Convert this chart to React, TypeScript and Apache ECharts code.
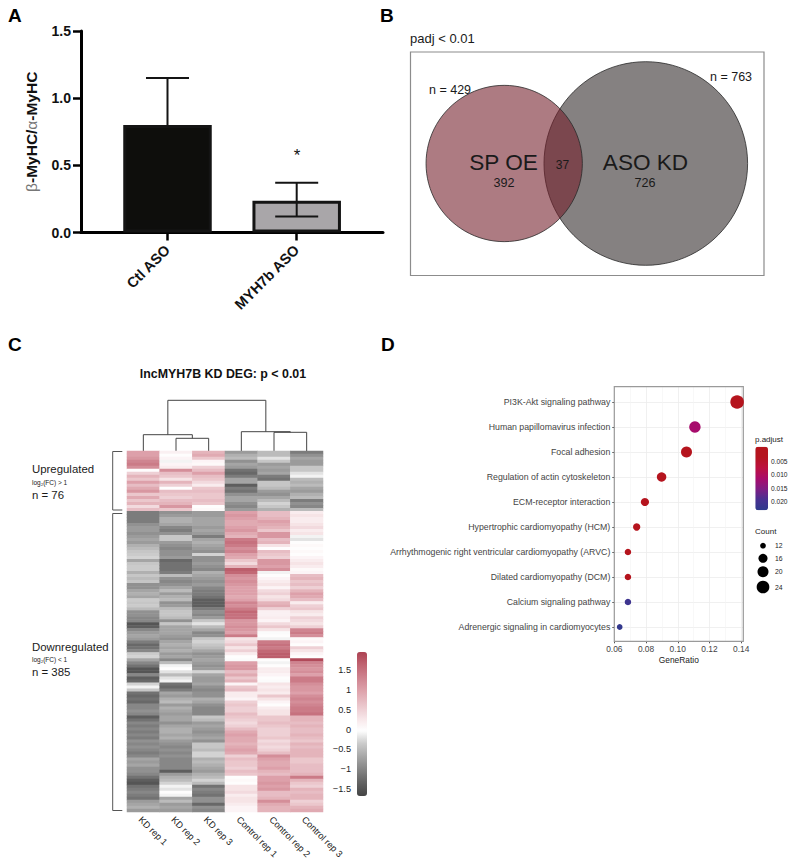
import React, { useEffect, useRef } from "react";
import * as echarts from "echarts";

const FONT = "Liberation Sans";

// Panel A
const barCategories = ["Ctl ASO", "MYH7b ASO"];
const barValues = [0.8, 0.236];
const errorHigh = [1.15, 0.37];
const errorLow = [0.8, 0.119];

// Panel B
const vennCounts = [429, 763];
const vennOnly = [392, 726];
const vennShared = 37;

// Panel C
const heatColumns = ["KD rep 1", "KD rep 2", "KD rep 3", "Control rep 1", "Control rep 2", "Control rep 3"];
const kdRep1 = [1.0,1.0,1.1,1.3,1.4,1.2,0.0,0.5,0.8,0.6,1.0,0.7,0.9,1.1,0.6,0.9,0.6,0.8,0.4,0.7,
  -1.1,-1.1,-1.1,-1.1,-0.9,
  -0.8,-0.8,-0.9,-0.8,-0.7,-0.8,-0.6,-0.5,-0.4,-0.35,-0.3,-0.7,-0.4,-0.35,-0.35,-0.6,-0.4,-0.5,-0.4,-0.9,-0.9,-0.7,-0.6,-0.7,-0.35,
  -0.4,-0.35,-0.5,-0.9,-0.9,-1.0,-1.0,-1.5,-1.4,-1.0,-0.8,-0.7,-0.8,-1.1,-1.3,-1.2,-1.0,-0.35,-0.3,-0.7,-1.0,-1.2,-1.5,-1.5,-1.0,
  -1.4,-1.3,-0.3,-0.1,-0.4,-1.2,-1.3,-1.2,-1.3,-1.0,-1.0,-0.9,-1.0,-1.4,-1.2,-1.0,-1.1,-1.0,-1.1,-1.0,-1.1,-0.9,-1.0,-0.9,-1.0,
  -1.1,-1.0,-0.7,-0.8,-0.7,-0.9,-0.9,-1.0,-1.2,-1.4,-1.5,-1.2,-1.1,-1.0,-1.1,-1.2,-0.8,-0.7,-0.6,-0.8];
const kdRep2 = [0.15,0.0,0.1,-0.1,0.1,0.2,1.2,0.7,0.6,0.3,0.8,0.5,0.0,0.7,0.6,0.5,0.7,0.8,1.1,0.6,
  -0.9,-0.8,-0.6,-0.6,-0.7,
  -1.0,-1.1,-0.9,-0.4,-0.4,-0.8,-0.9,-1.0,-0.9,-0.9,-0.8,-1.3,-1.2,-1.2,-1.2,-1.1,-0.5,-0.9,-1.0,-0.9,-0.7,-0.5,-0.8,-0.6,-0.5,
  -0.9,-0.8,-0.5,-0.4,-0.4,-0.5,-0.9,-0.4,-0.7,-0.7,-0.7,-0.8,-0.9,-0.7,-0.6,-0.7,-0.6,-0.8,-0.7,-1.0,-0.5,-0.1,0.0,-0.2,-0.5,
  -0.2,-0.1,-1.2,-1.3,-1.1,-0.7,-0.8,-0.6,-0.5,-0.8,-0.6,-0.7,-0.8,-0.7,-0.7,-0.9,-0.7,-0.6,-0.6,-0.7,-0.6,-0.8,-0.9,-1.0,-0.9,
  -1.0,-0.9,-1.0,-1.0,-1.0,-1.0,-1.4,-0.8,-0.6,-0.5,-0.3,-0.1,-0.2,0.0,-0.1,-0.7,-0.5,-0.8,-0.7,-0.8];
const kdRep3 = [0.8,0.9,0.6,0.1,0.05,0.5,0.7,1.0,0.7,0.6,0.4,0.2,0.6,0.7,0.6,0.6,0.7,0.6,0.0,0.05,
  -0.8,-0.8,-0.7,-0.7,-0.7,
  -0.8,-0.7,-0.8,-1.1,-0.7,-0.6,-0.7,-0.8,-0.9,-0.3,-0.9,-0.9,-0.8,-0.9,-1.0,-0.6,-0.7,-0.8,-0.9,-0.8,-1.0,-1.1,-1.1,-1.2,-1.4,
  -1.4,-1.4,-1.1,-0.9,-1.0,-0.8,-0.4,-0.2,-0.5,-0.7,-1.0,-0.9,-0.4,-0.3,-0.4,-0.5,-0.7,-0.9,-0.8,-0.7,-0.8,-0.9,-0.8,-0.3,-0.7,
  -0.8,-0.8,-0.7,-0.9,-1.0,-0.9,-0.9,-0.6,-0.7,-0.9,-1.0,-1.0,-1.0,-0.4,-0.5,-0.8,-0.7,-0.8,-0.9,-0.8,-0.7,-0.9,-0.4,-0.4,-0.5,
  -0.3,-0.3,-0.6,-0.5,-0.6,-0.7,-0.8,-0.6,-0.5,-0.3,-0.5,-1.2,-1.0,-1.1,-1.2,-0.9,-0.9,-1.3,-0.9,-1.0];
const controlRep1 = [-0.8,-0.6,-0.5,-0.9,-0.7,-0.8,-1.2,-1.3,-1.1,-0.7,-0.7,-1.4,-1.1,-1.2,-0.9,-0.7,-0.7,-0.9,-1.0,-0.8,
  1.0,1.1,1.0,0.9,0.9,
  1.0,1.1,0.9,0.8,1.4,1.5,1.4,1.2,1.3,1.0,0.9,0.6,0.4,0.8,1.7,1.6,1.2,1.1,1.2,1.1,1.0,1.0,1.0,0.9,1.0,
  1.3,1.2,1.4,1.6,1.5,1.5,1.1,1.1,1.2,1.1,1.0,1.4,0.3,0.4,0.6,0.3,0.5,0.2,0.0,-0.05,1.0,1.1,1.1,0.7,0.9,
  0.6,0.8,0.1,0.6,0.7,0.2,0.2,0.1,0.5,0.6,0.5,0.5,0.7,0.6,0.5,0.4,0.5,0.7,0.9,1.0,0.9,0.9,0.8,0.9,1.0,
  0.9,0.5,0.7,0.6,0.6,0.5,0.7,0.6,0.0,0.05,0.0,0.3,0.3,0.4,0.2,0.3,0.3,0.2,0.1,0.1];
const controlRep2 = [-0.5,-0.5,-0.2,-0.4,-0.8,-0.7,-0.8,-0.7,-1.1,-1.2,-0.4,-0.4,-0.5,-0.8,-0.9,-0.7,-0.5,-0.3,-0.4,-0.6,
  0.7,0.7,0.8,1.0,0.9,
  0.8,0.6,1.1,1.1,0.7,0.8,0.3,0.0,0.7,0.6,0.5,1.1,1.1,1.0,1.2,-0.1,0.0,0.1,0.2,0.3,0.1,0.4,0.5,0.3,0.4,
  0.8,0.9,0.5,0.15,0.15,0.2,0.1,0.4,0.6,0.3,-0.05,0.0,-0.1,1.4,1.5,1.4,1.6,1.7,1.7,0.0,-0.1,0.0,0.2,0.2,0.1,
  0.0,-0.05,0.3,0.2,0.3,0.2,0.6,0.3,0.1,0.0,0.2,0.3,0.3,0.6,0.6,0.7,0.6,0.5,0.5,0.5,0.6,0.4,0.5,0.4,0.5,
  0.7,1.2,1.0,0.9,0.9,1.0,0.8,0.7,1.0,1.0,1.1,1.0,1.1,0.7,0.7,0.8,1.2,0.9,0.8,0.8];
const controlRep3 = [-1.1,-0.9,-0.7,-0.8,-0.8,-0.4,-0.4,-0.2,-0.1,-0.5,-0.6,-0.5,-0.7,-0.8,-0.6,-0.5,-1.1,-0.9,-1.0,-0.5,
  0.2,0.3,0.2,0.2,0.3,
  0.4,0.2,0.3,-0.1,-0.2,0.0,0.05,0.0,0.05,0.0,0.1,0.2,0.3,0.2,0.05,0.1,0.7,0.8,0.6,0.7,0.5,0.8,1.0,0.9,0.7,
  0.2,0.5,0.6,0.3,0.2,0.5,0.4,0.3,0.5,1.3,1.4,1.2,0.05,0.1,0.0,0.5,0.3,0.1,0.0,1.9,1.3,1.2,1.1,1.2,1.0,
  1.4,1.4,1.2,1.1,1.1,1.0,1.2,1.3,1.2,1.3,1.4,1.4,1.5,0.8,0.8,0.7,0.8,0.7,0.7,0.8,0.7,0.6,0.8,0.7,0.8,
  0.8,0.8,0.6,0.6,0.7,0.7,0.7,0.8,1.4,0.8,0.6,0.5,0.8,0.7,0.8,0.8,0.5,0.6,0.8,0.9];
const heatValues = [kdRep1, kdRep2, kdRep3, controlRep1, controlRep2, controlRep3];
const heatLegendTicks = [-1.5, -1, -0.5, 0, 0.5, 1, 1.5];
// [left column, left base, right column, right base, merge height]
const dendrogram = [
  [1, 0, 2, 0, 12.7],
  [0, 0, 1.5, 12.7, 16.3],
  [4, 0, 5, 0, 18.7],
  [3, 0, 4.5, 18.7, 19.3],
  [0.75, 16.3, 3.75, 19.3, 50.7],
];

// Panel D
const pathways = [
  "Adrenergic signaling in cardiomyocytes",
  "Calcium signaling pathway",
  "Dilated cardiomyopathy (DCM)",
  "Arrhythmogenic right ventricular cardiomyopathy (ARVC)",
  "Hypertrophic cardiomyopathy (HCM)",
  "ECM-receptor interaction",
  "Regulation of actin cytoskeleton",
  "Focal adhesion",
  "Human papillomavirus infection",
  "PI3K-Akt signaling pathway",
];
const geneRatio = [0.0634, 0.0686, 0.0686, 0.0686, 0.0741, 0.0793, 0.0898, 0.1055, 0.1108, 0.1374];
const pAdjust = [0.0225, 0.0208, 0.0012, 0.0012, 0.0012, 0.0014, 0.0018, 0.001, 0.0115, 0.0005];
const geneCount = [12, 13, 13, 13, 14, 15, 17, 20, 21, 26];
const countLegend = [12, 16, 20, 24];
const pLegendTicks = [0.005, 0.01, 0.015, 0.02];

const dotDiameter = (c: number) =>
  c <= 16 ? 5.7 + ((c - 12) * 3.3) / 4 : c <= 20 ? 9 + ((c - 16) * 2) / 4 : 11 + ((c - 20) * 1.7) / 4;

const text = (s: string, x: number, y: number, fontSize: number, extra: any = {}) => ({
  type: "text",
  x,
  y,
  silent: true,
  z: 20,
  style: {
    text: s,
    fontFamily: FONT,
    fontSize,
    fill: extra.fill ?? "#1a1a1a",
    fontWeight: extra.fontWeight ?? "normal",
    textAlign: extra.align ?? "left",
    textVerticalAlign: "middle",
    verticalAlign: "middle",
  },
});

const bracket = (x0: number, x1: number, y0: number, y1: number) => ({
  type: "polyline",
  silent: true,
  shape: { points: [[x1, y0], [x0, y0], [x0, y1], [x1, y1]] },
  style: { stroke: "#555", lineWidth: 1, fill: "none" },
});

const hiddenAxis = (gridIndex: number, min: number, max: number) => ({
  type: "value", gridIndex, min, max, show: false,
});

function buildOption() {
  const countItems = [545.7, 558.3, 571.7, 587];
  const graphic: any[] = [
    text("A", 8, 15.5, 19, { fontWeight: "bold", fill: "#000" }),
    text("B", 380, 15.5, 19, { fontWeight: "bold", fill: "#000" }),
    text("C", 8, 344.5, 19, { fontWeight: "bold", fill: "#000" }),
    text("D", 381, 344.5, 19, { fontWeight: "bold", fill: "#000" }),
    text("*", 297, 155, 17, { align: "center", fill: "#111" }),
    text("padj < 0.01", 410, 38, 13),
    {
      type: "rect", silent: true, z: 1,
      shape: { x: 410.5, y: 52, width: 353.5, height: 223.5 },
      style: { fill: "none", stroke: "#8c8c8c", lineWidth: 1.2 },
    },
    text(`n = ${vennCounts[0]}`, 429, 89.5, 12.5),
    text(`n = ${vennCounts[1]}`, 710, 77, 12.5),
    text("SP OE", 503.5, 162.5, 22.6, { align: "center" }),
    text("ASO KD", 645.5, 162.5, 22.6, { align: "center" }),
    text(String(vennOnly[0]), 504, 182.5, 12.6, { align: "center" }),
    text(String(vennOnly[1]), 645, 182.5, 12.6, { align: "center" }),
    text(String(vennShared), 562.5, 164.5, 12, { align: "center" }),
    text("lncMYH7B KD DEG: p < 0.01", 223, 374, 12.4, { align: "center", fontWeight: "bold", fill: "#111" }),
    bracket(112.7, 122.3, 451.5, 510),
    bracket(112.7, 122.3, 513.5, 810.5),
    text("Upregulated", 32, 469, 11.4),
    text("log\u2082(FC) > 1", 32, 482, 6.5),
    text("n = 76", 32, 494.5, 11.4),
    text("Downregulated", 32, 646.5, 11.4),
    text("log\u2082(FC) < 1", 32, 659.5, 6.5),
    text("n = 385", 32, 672, 11.4),
    text("p.adjust", 755, 439, 8, { fill: "#222" }),
    text("Count", 755, 531, 8, { fill: "#222" }),
    ...countLegend.map((c, i) => ({
      type: "circle", silent: true,
      shape: { cx: 763, cy: countItems[i], r: dotDiameter(c) / 2 },
      style: { fill: "#000" },
    })),
    ...countLegend.map((c, i) => text(String(c), 775, countItems[i], 6.8, { fill: "#222" })),
  ];

  const heatData: number[][] = [];
  heatValues.forEach((col, x) => col.forEach((v, y) => heatData.push([x, y, v])));
  const rows = kdRep1.map((_, i) => String(i));
  const freeBounds = { outerBoundsMode: "none" };

  return {
    animation: false,
    backgroundColor: "#fff",
    graphic,
    grid: [
      { left: 81, top: 31, width: 302, height: 201.5, ...freeBounds },
      { left: 410, top: 52, width: 354, height: 224, ...freeBounds },
      { left: 127, top: 400, width: 196, height: 51, ...freeBounds },
      { left: 127, top: 451, width: 196, height: 361, ...freeBounds },
      { left: 357, top: 652, width: 10, height: 144, ...freeBounds },
      { left: 614.3, top: 386.7, width: 129, height: 254.6, show: true, borderColor: "#9a9a9a", borderWidth: 1.2, z: 1, ...freeBounds },
      { left: 755.3, top: 446.7, width: 12.7, height: 63.6, ...freeBounds },
    ],
    xAxis: [
      {
        type: "value", gridIndex: 0, min: -0.6695, max: 1.668,
        axisLine: { onZero: false, lineStyle: { color: "#000", width: 3 } },
        axisTick: { customValues: [0, 1], length: 8, lineStyle: { color: "#000", width: 2.5 } },
        axisLabel: {
          customValues: [0, 1], rotate: 45, margin: 15,
          formatter: (v: number) => barCategories[v],
          fontFamily: FONT, fontWeight: "bold", fontSize: 14.5, color: "#111",
        },
        splitLine: { show: false },
      },
      hiddenAxis(1, 0, 354),
      hiddenAxis(2, -0.5, 5.5),
      {
        type: "category", gridIndex: 3, data: heatColumns, position: "bottom",
        axisLine: { show: false }, axisTick: { show: false }, splitLine: { show: false },
        axisLabel: {
          rotate: -45, margin: 3, interval: 0, verticalAlign: "top",
          fontFamily: FONT, fontSize: 9.2, color: "#222",
        },
      },
      hiddenAxis(4, 0, 1),
      {
        type: "value", gridIndex: 5, min: 0.06, max: 0.1413, interval: 0.02,
        axisLine: { show: false, onZero: false },
        axisTick: { customValues: [0.06, 0.08, 0.1, 0.12, 0.14], length: 2, lineStyle: { color: "#555" } },
        axisLabel: {
          customValues: [0.06, 0.08, 0.1, 0.12, 0.14], margin: 4,
          formatter: (v: number) => v.toFixed(2),
          fontFamily: FONT, fontSize: 8.4, color: "#444",
        },
        name: "GeneRatio", nameLocation: "middle", nameGap: 15,
        nameTextStyle: { fontFamily: FONT, fontSize: 8.4, color: "#222" },
        splitLine: { show: true, lineStyle: { color: "#ececec", width: 0.8 } },
        minorTick: { splitNumber: 2 },
        minorSplitLine: { show: true, lineStyle: { color: "#f4f4f4", width: 0.6 } },
      },
      hiddenAxis(6, 0, 1),
    ],
    yAxis: [
      {
        type: "value", gridIndex: 0, min: 0, max: 1.5, interval: 0.5,
        axisLine: { show: true, onZero: false, lineStyle: { color: "#000", width: 3 } },
        axisTick: { show: true, length: 8, lineStyle: { color: "#000", width: 2.5 } },
        axisLabel: {
          margin: 10, formatter: (v: number) => v.toFixed(1),
          fontFamily: FONT, fontWeight: "bold", fontSize: 14, color: "#111",
        },
        splitLine: { show: false },
        name: "{g|\u03b2}{b|-MyHC/}{g|\u03b1}{b|-MyHC}",
        nameLocation: "middle", nameRotate: 90, nameGap: 42,
        nameTextStyle: {
          rich: {
            g: { fontFamily: FONT, fontSize: 15.5, color: "#777" },
            b: { fontFamily: FONT, fontSize: 15.5, fontWeight: "bold", color: "#111" },
          },
        },
      },
      hiddenAxis(1, 0, 224),
      hiddenAxis(2, 0, 51),
      { type: "category", gridIndex: 3, data: rows, inverse: true, show: false },
      {
        type: "value", gridIndex: 4, min: -1.69, max: 1.97,
        axisLine: { show: false, onZero: false },
        axisTick: { show: false },
        splitLine: { show: false },
        axisLabel: {
          customValues: heatLegendTicks, margin: 6,
          formatter: (v: number) => String(v).replace("-", "\u2212"),
          fontFamily: FONT, fontSize: 9.2, color: "#222",
        },
      },
      {
        type: "value", gridIndex: 5, min: -0.572, max: 9.612,
        axisLine: { show: false, onZero: false },
        axisTick: { customValues: pathways.map((_, i) => i), length: 2, lineStyle: { color: "#555" } },
        axisLabel: {
          customValues: pathways.map((_, i) => i), margin: 4,
          formatter: (v: number) => pathways[v],
          fontFamily: FONT, fontSize: 8.75, color: "#444",
        },
        splitLine: { show: true, lineStyle: { color: "#ececec", width: 0.8 } },
      },
      {
        type: "value", gridIndex: 6, min: -0.0006, max: 0.0233, inverse: true, position: "right",
        axisLine: { show: false, onZero: false },
        axisTick: { show: false },
        splitLine: { show: false },
        axisLabel: {
          customValues: pLegendTicks, margin: 3,
          formatter: (v: number) => v.toFixed(3),
          fontFamily: FONT, fontSize: 6.6, color: "#222",
        },
      },
    ],
    visualMap: [
      {
        type: "continuous", seriesIndex: 6, dimension: 2, min: -1.69, max: 1.97,
        left: 357, top: 652, itemWidth: 10, itemHeight: 144, padding: 0,
        calculable: false, hoverLink: false, borderWidth: 0,
        inRange: {
          color: ["#444444", "#626262", "#848484", "#a6a6a6", "#cacaca", "#ffffff",
            "#f6e3e6", "#e9c3c9", "#dea3ac", "#cf8490", "#c06472", "#ad4252"],
        },
      },
      {
        type: "continuous", seriesIndex: 7, dimension: 2, min: -0.0006, max: 0.0233, inverse: true,
        left: 755.3, top: 446.7, itemWidth: 12.7, itemHeight: 63.6, padding: 0,
        calculable: false, hoverLink: false,
        inRange: { color: ["#B5141C", "#B5141F", "#BC1040", "#A90B6B", "#7F1D84", "#483091", "#2E3A8C"] },
      },
    ],
    series: [
      {
        type: "bar", xAxisIndex: 0, yAxisIndex: 0, barWidth: 88.5,
        data: barValues.map((v, i) => ({
          value: [i, v],
          itemStyle: { color: i === 0 ? "#0e0e0c" : "#a9a6a9", borderColor: "#141414", borderWidth: 3 },
        })),
        silent: true,
      },
      {
        type: "custom", xAxisIndex: 0, yAxisIndex: 0, silent: true, z: 5,
        data: barValues.map((_, i) => [i, errorLow[i], errorHigh[i], errorLow[i] < barValues[i] ? 1 : 0]),
        encode: { x: 0, y: [1, 2] },
        renderItem: (_: any, api: any) => {
          const x = api.value(0);
          const lo = api.coord([x, api.value(1)]);
          const hi = api.coord([x, api.value(2)]);
          const style = { stroke: "#141414", lineWidth: 2 };
          const line = (x1: number, y1: number, x2: number, y2: number) => ({
            type: "line", shape: { x1, y1, x2, y2 }, style,
          });
          const kids: any[] = [line(lo[0], lo[1], hi[0], hi[1]), line(hi[0] - 21.5, hi[1], hi[0] + 21.5, hi[1])];
          if (api.value(3)) kids.push(line(lo[0] - 21.5, lo[1], lo[0] + 21.5, lo[1]));
          return { type: "group", children: kids };
        },
      },
      {
        type: "scatter", xAxisIndex: 1, yAxisIndex: 1, silent: true, z: 2,
        symbolSize: 203.6,
        data: [[235.8, 112.5]],
        itemStyle: { color: "#858181", borderColor: "#2a2a2a", borderWidth: 0.8, opacity: 1 },
      },
      {
        type: "scatter", xAxisIndex: 1, yAxisIndex: 1, silent: true, z: 3,
        symbolSize: 156.3,
        data: [[94.2, 112.5]],
        itemStyle: { color: "rgba(116,30,43,0.59)", borderColor: "#2a2a2a", borderWidth: 0.8, opacity: 1 },
      },
      {
        type: "custom", xAxisIndex: 2, yAxisIndex: 2, silent: true,
        data: dendrogram,
        encode: { x: [0, 2], y: 4 },
        renderItem: (_: any, api: any) => {
          const a = api.coord([api.value(0), api.value(1)]);
          const b = api.coord([api.value(0), api.value(4)]);
          const c = api.coord([api.value(2), api.value(4)]);
          const d = api.coord([api.value(2), api.value(3)]);
          return {
            type: "polyline",
            shape: { points: [a, b, c, d] },
            style: { stroke: "#444", lineWidth: 1, fill: "none" },
          };
        },
      },
      { type: "line", xAxisIndex: 4, yAxisIndex: 4, data: [], silent: true },
      {
        type: "heatmap", xAxisIndex: 3, yAxisIndex: 3, silent: true,
        data: heatData,
        itemStyle: { borderWidth: 0 },
        progressive: 0,
      },
      {
        type: "scatter", xAxisIndex: 5, yAxisIndex: 5, silent: true, z: 5,
        data: geneRatio.map((r, i) => [r, i, pAdjust[i], geneCount[i]]),
        symbolSize: (v: number[]) => dotDiameter(v[3]),
        clip: false,
        itemStyle: { opacity: 1 },
        encode: { x: 0, y: 1 },
      },
      { type: "line", xAxisIndex: 6, yAxisIndex: 6, data: [], silent: true },
    ],
  };
}

export default function App() {
  const ref = useRef<HTMLDivElement>(null);
  useEffect(() => {
    document.body.style.margin = "0";
    const chart = echarts.init(ref.current!, undefined, { renderer: "svg" });
    chart.setOption(buildOption() as any);
    return () => chart.dispose();
  }, []);
  return <div ref={ref} style={{ width: 788, height: 861 }} />;
}
